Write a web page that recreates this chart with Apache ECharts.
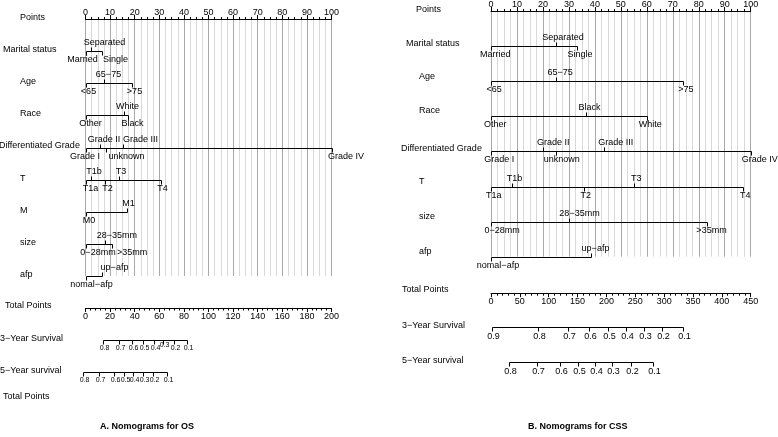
<!DOCTYPE html>
<html>
<head>
<meta charset="utf-8">
<script src="https://cdn.jsdelivr.net/npm/echarts@6/dist/echarts.min.js"></script>
<style>
  html, body { margin: 0; padding: 0; background: #fff; }
  #main { width: 778px; height: 437px; }
</style>
</head>
<body>
<div id="main"></div>
<script>
// ---- A. OS nomogram ----
var osRowNames = ['Points', 'Marital status', 'Age', 'Race', 'Differentiated Grade', 'T', 'M', 'size', 'afp',
    'Total Points', '3\u2212Year Survival', '5\u2212Year survival', 'Total Points'];
var osRowPos = [0, 1, 2, 3, 4, 5, 6, 7, 8, 9, 10, 11, 11.8];

// levels listed in order of increasing points
var osLevels = [
    ['Married', 'Separated', 'Single'],
    ['<65', '65\u221275', '>75'],
    ['Other', 'White', 'Black'],
    ['Grade I', 'Grade II', 'unknown', 'Grade III', 'Grade IV'],
    ['T1a', 'T1b', 'T2', 'T3', 'T4'],
    ['M0', 'M1'],
    ['0\u221228mm', '28\u221235mm', '>35mm'],
    ['nomal\u2212afp', 'up\u2212afp']
];
var osPoints = [
    [0, 2.3, 6.6],
    [0, 7.5, 18.8],
    [0, 15.5, 17.2],
    [0, 5.9, 8.3, 15.1, 100],
    [0, 2.1, 8.1, 13.6, 30.6],
    [0, 16.7],
    [0, 8.1, 10.9],
    [0, 6.8]
];
var os3Labels = ['0.8', '0.7', '0.6', '0.5', '0.4', '0.3', '0.2', '0.1'];
var os3Total = [14.1, 27.4, 38.2, 46.8, 55.3, 63.3, 72.1, 82.7];
var os5Labels = ['0.8', '0.7', '0.6', '0.5', '0.4', '0.3', '0.2', '0.1'];
var os5Total = [-2.4, 10.9, 23.1, 30.9, 38.6, 46.4, 54.5, 66.4];

// ---- B. CSS nomogram ----
var cssRowNames = ['Points', 'Marital status', 'Age', 'Race', 'Differentiated Grade', 'T', 'size', 'afp',
    'Total Points', '3\u2212Year Survival', '5\u2212Year survival'];
var cssRowPos = [0, 1, 2, 3, 4, 5, 6, 7, 8, 9, 10];

var cssLevels = [
    ['Married', 'Separated', 'Single'],
    ['<65', '65\u221275', '>75'],
    ['Other', 'Black', 'White'],
    ['Grade I', 'Grade II', 'unknown', 'Grade III', 'Grade IV'],
    ['T1a', 'T1b', 'T2', 'T3', 'T4'],
    ['0\u221228mm', '28\u221235mm', '>35mm'],
    ['nomal\u2212afp', 'up\u2212afp']
];
var cssPoints = [
    [0, 24.9, 33.2],
    [0, 25, 73.8],
    [0, 36.6, 60.2],
    [0, 20.1, 24.9, 43.4, 100],
    [0, 8, 35.7, 55.1, 97.2],
    [0, 30, 83.3],
    [0, 38.5]
];
var css3Labels = ['0.9', '0.8', '0.7', '0.6', '0.5', '0.4', '0.3', '0.2', '0.1'];
var css3Total = [1, 81.7, 132.6, 169.4, 202, 233.4, 265.2, 297.1, 333];
var css5Labels = ['0.8', '0.7', '0.6', '0.5', '0.4', '0.3', '0.2', '0.1'];
var css5Total = [31.3, 80.4, 118.7, 150.5, 180.7, 210.2, 243.2, 281.5];

// ---- layout (pixel nudges, label positions) ----
var osNameX = [20, 3, 20, 20, -1, 20, 20, 20, 20, 5, 0, 0, 3];
var osNameDy = [-1.5, -1.5, -1.5, -1.5, -1.5, -1.5, -1.5, -1.5, -1.5, -3, -1.5, -2, -1.5];
var cssNameX = [416, 406, 419, 419, 401, 419, 419, 419, 402, 402, 402];
var cssNameDy = [-1, -3, -5, -6, -3, -5, -5, -5, -2, -1, -1];
var osNudge = [
    [-4, 13, 13], [2, 4, 2], [4, 3, 4], [-1.5, 3.5, 20, 17, 13.5],
    [4, 2.6, 2, 1.5, 1], [2.5, 1], [11.5, 11.4, 19.7], [5, 12]
];
var cssNudge = [
    [3.7, 6.5, 2.4], [2.7, 3.7, 2.3], [3.7, 3, 2.7], [7.7, 9.7, 5.3, 11.3, 8.3],
    [2.3, 2, 1.3, 1.7, 1.7], [10.7, 10, 4], [6.5, 4]
];

var FONT = '"Liberation Sans", Arial, sans-serif';

function px(v) { return Math.round(v) + 0.5; }

function varRenderer(points, levels, nudge) {
    return function (params, api) {
        var i = params.dataIndex;
        var row = api.value(1);
        var pts = points[i];
        var y = px(api.coord([0, row])[1]);
        var x0 = px(api.coord([pts[0], row])[0]);
        var x1 = px(api.coord([pts[pts.length - 1], row])[0]);
        var kids = [{
            type: 'line', shape: { x1: x0, y1: y, x2: x1, y2: y },
            style: { stroke: '#000', lineWidth: 1 }
        }];
        for (var k = 0; k < pts.length; k++) {
            var x = px(api.coord([pts[k], row])[0]);
            var up = k % 2 === 1;
            kids.push({
                type: 'line', shape: { x1: x, y1: y, x2: x, y2: up ? y - 4 : y + 4 },
                style: { stroke: '#000', lineWidth: 1 }
            });
            kids.push({
                type: 'text',
                style: {
                    text: levels[i][k], x: x + nudge[i][k], y: up ? y - 9 : y + 8,
                    align: 'center', verticalAlign: 'middle',
                    fontSize: 9, fontFamily: FONT, fill: '#000'
                }
            });
        }
        return { type: 'group', children: kids };
    };
}

function survRenderer(totals, labels, fontSize, labelGap, raise) {
    return function (params, api) {
        var i = params.dataIndex;
        var row = api.value(1);
        var t = totals[i];
        var y = px(api.coord([0, row])[1]);
        var xa = px(api.coord([t[0], row])[0]);
        var xb = px(api.coord([t[t.length - 1], row])[0]);
        var kids = [{
            type: 'line', shape: { x1: xa, y1: y, x2: xb, y2: y },
            style: { stroke: '#000', lineWidth: 1 }
        }];
        for (var k = 0; k < t.length; k++) {
            var x = px(api.coord([t[k], row])[0]);
            kids.push({
                type: 'line', shape: { x1: x, y1: y, x2: x, y2: y + 4 },
                style: { stroke: '#000', lineWidth: 1 }
            });
            var dy = (raise[i] === k) ? -3 : 0;
            kids.push({
                type: 'text',
                style: {
                    text: labels[i][k], x: x + 1, y: y + labelGap + dy,
                    align: 'center', verticalAlign: 'middle',
                    fontSize: fontSize, fontFamily: FONT, fill: '#000'
                }
            });
        }
        return { type: 'group', children: kids };
    };
}

function nameRenderer(names, xs, dys) {
    return function (params, api) {
        var i = params.dataIndex;
        var y = api.coord([0, api.value(1)])[1];
        return {
            type: 'text',
            style: {
                text: names[i], x: xs[i], y: y + dys[i],
                align: 'left', verticalAlign: 'middle',
                fontSize: 9, fontFamily: FONT, fill: '#000'
            }
        };
    };
}

function pointsAxis(grid) {
    return {
        gridIndex: grid, type: 'value', min: 0, max: 100, interval: 10, position: 'top',
        axisLine: { show: true, onZero: false, lineStyle: { color: '#000', width: 1 } },
        axisTick: { show: true, length: 4, lineStyle: { color: '#000' } },
        minorTick: { show: true, splitNumber: 4, length: 2, lineStyle: { color: '#000' } },
        axisLabel: { fontSize: 9, margin: 2, color: '#000', fontFamily: FONT },
        splitLine: { show: true, lineStyle: { color: '#a9a9a9', width: 1 } },
        minorSplitLine: { show: true, lineStyle: { color: '#d9d9d9', width: 1 } }
    };
}

function totalAxis(grid, max, interval, offset) {
    return {
        gridIndex: grid, type: 'value', min: 0, max: max, interval: interval,
        position: 'bottom', offset: offset,
        axisLine: { show: true, onZero: false, lineStyle: { color: '#000', width: 1 } },
        axisTick: { show: true, length: 4, lineStyle: { color: '#000' } },
        minorTick: { show: true, splitNumber: 5, length: 2.5, lineStyle: { color: '#000' } },
        axisLabel: { fontSize: 9, margin: 4, color: '#000', fontFamily: FONT },
        splitLine: { show: false }
    };
}

var chart = echarts.init(document.getElementById('main'), null, { renderer: 'canvas' });

var option = {
    animation: false,
    backgroundColor: '#fff',
    grid: [
        { left: 85.5, width: 246, top: 19, height: 257 },
        { left: 491, width: 259.7, top: 10, height: 246.7 }
    ],
    xAxis: [
        pointsAxis(0),
        totalAxis(0, 200, 20, 32),
        pointsAxis(1),
        totalAxis(1, 450, 50, 36.5)
    ],
    yAxis: [
        { gridIndex: 0, type: 'value', min: 0, max: 8, inverse: true, show: false },
        { gridIndex: 1, type: 'value', min: 0, max: 7, inverse: true, show: false }
    ],
    graphic: [
        { type: 'text', left: 100, top: 422, style: { text: 'A. Nomograms for OS', font: 'bold 9px ' + FONT, fill: '#000' } },
        { type: 'text', left: 528, top: 422, style: { text: 'B. Nomograms for CSS', font: 'bold 9px ' + FONT, fill: '#000' } }
    ],
    series: [
        {
            type: 'custom', xAxisIndex: 0, yAxisIndex: 0, clip: false, silent: true,
            data: osPoints.map(function (p, i) { return [0, i + 1]; }),
            renderItem: varRenderer(osPoints, osLevels, osNudge)
        },
        {
            type: 'custom', xAxisIndex: 1, yAxisIndex: 0, clip: false, silent: true,
            data: [[0, 10], [0, 11]],
            renderItem: survRenderer([os3Total, os5Total], [os3Labels, os5Labels], 7, 7.5, [5, -1])
        },
        {
            type: 'custom', xAxisIndex: 0, yAxisIndex: 0, clip: false, silent: true,
            data: osRowPos.map(function (r) { return [0, r]; }),
            renderItem: nameRenderer(osRowNames, osNameX, osNameDy)
        },
        {
            type: 'custom', xAxisIndex: 2, yAxisIndex: 1, clip: false, silent: true,
            data: cssPoints.map(function (p, i) { return [0, i + 1]; }),
            renderItem: varRenderer(cssPoints, cssLevels, cssNudge)
        },
        {
            type: 'custom', xAxisIndex: 3, yAxisIndex: 1, clip: false, silent: true,
            data: [[0, 9], [0, 10]],
            renderItem: survRenderer([css3Total, css5Total], [css3Labels, css5Labels], 9, 9, [-1, -1])
        },
        {
            type: 'custom', xAxisIndex: 2, yAxisIndex: 1, clip: false, silent: true,
            data: cssRowPos.map(function (r) { return [0, r]; }),
            renderItem: nameRenderer(cssRowNames, cssNameX, cssNameDy)
        }
    ]
};

chart.setOption(option);
</script>
</body>
</html>
